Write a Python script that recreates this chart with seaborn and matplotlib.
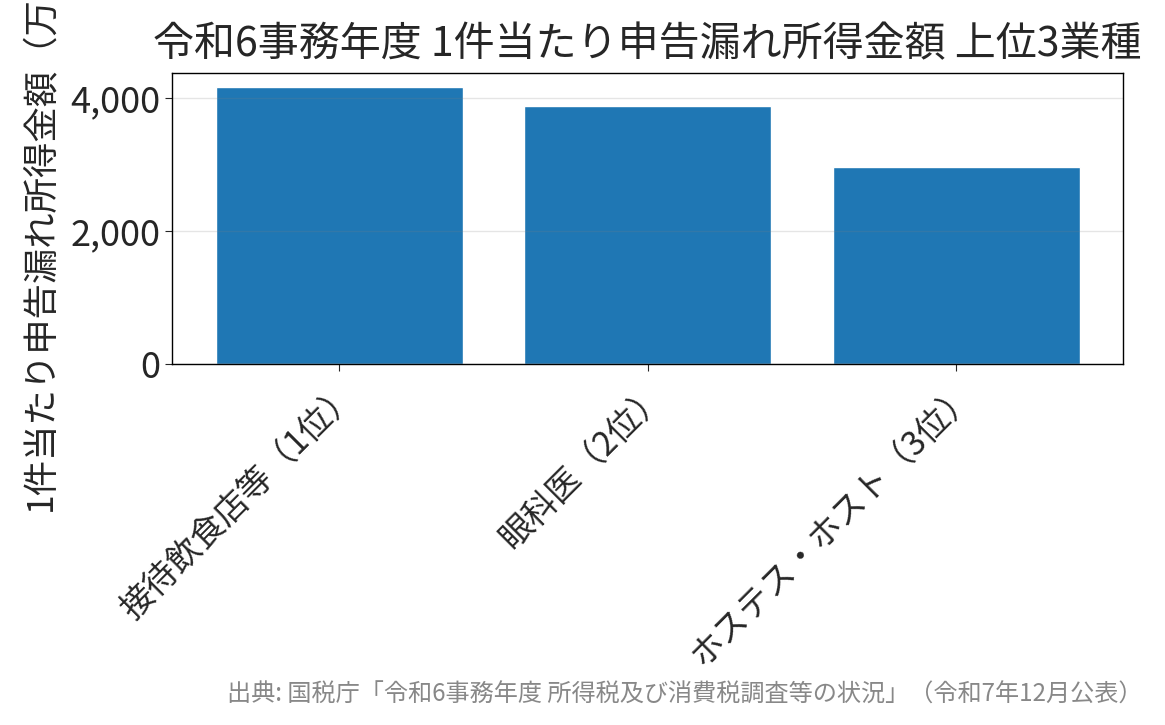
import matplotlib
matplotlib.use("Agg")
import matplotlib.pyplot as plt
from matplotlib.ticker import FuncFormatter, MultipleLocator
import pandas as pd
import seaborn as sns

# data (万円)
industries = ["接待飲食店等（1位）", "眼科医（2位）", "ホステス・ホスト（3位）"]
amounts = [4170, 3890, 2960]

title = "令和6事務年度 1件当たり申告漏れ所得金額 上位3業種"
ylabel = "1件当たり申告漏れ所得金額（万円）"
source = "出典: 国税庁「令和6事務年度 所得税及び消費税調査等の状況」（令和7年12月公表）"

sns.set_style("ticks")
plt.rcParams["font.family"] = ["Noto Sans CJK JP", "DejaVu Sans"]

df = pd.DataFrame({"industry": industries, "amount": amounts})

fig, ax = plt.subplots(figsize=(11.65, 7.25), dpi=100)
plt.subplots_adjust(left=0.148, right=0.964, top=0.899, bottom=0.498)

sns.barplot(data=df, x="industry", y="amount", color="#1f77b4",
            saturation=1, width=0.8, ax=ax)

# matplotlib-like x padding instead of seaborn's fixed categorical limits
ax.margins(x=0.05)
ax.autoscale(enable=True, axis="x")

ax.set_axisbelow("line")
ax.yaxis.grid(True, color="gray", alpha=0.2, linewidth=1)
ax.yaxis.set_major_locator(MultipleLocator(2000))
ax.yaxis.set_major_formatter(FuncFormatter(lambda v, p: f"{v:,.0f}"))

for s in ax.spines.values():
    s.set_color("black")
    s.set_linewidth(1.0)

ax.tick_params(axis="y", labelsize=26, length=5)
ax.tick_params(axis="x", labelsize=24, length=5)
plt.setp(ax.get_xticklabels(), rotation=45, ha="right", rotation_mode="anchor")

ax.set_xlabel("")
ax.set_ylabel(ylabel, fontsize=25.5, labelpad=8)
ax.set_title(title, fontsize=29.5, pad=12)

fig.text(0.981, 0.042, source, ha="right", va="center", color="#888888", fontsize=17.4)

fig.savefig("out.png", dpi=100)
